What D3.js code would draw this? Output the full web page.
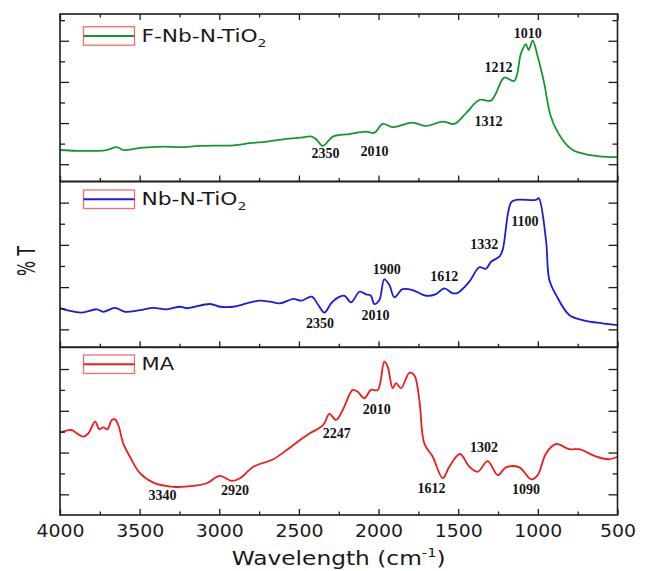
<!DOCTYPE html>
<html>
<head>
<meta charset="utf-8">
<script src="https://cdn.jsdelivr.net/npm/d3@7"></script>
<style>
  html, body { margin: 0; padding: 0; background: #fff; }
  svg { display: block; }
</style>
</head>
<body>
<script>
// FTIR spectra: three stacked panels sharing one wavenumber axis
const xTicks = [4000, 3500, 3000, 2500, 2000, 1500, 1000, 500];
const xMinorTicks = [3750, 3250, 2750, 2250, 1750, 1250, 750];

// F-Nb-N-TiO2 (top panel)
const fnbWave = [4000, 3895, 3707, 3644, 3602, 3498, 3352, 3247, 3121, 2912, 2807, 2702, 2598, 2493, 2419, 2388, 2350, 2287, 2184, 2079, 2027, 1974, 1911, 1786, 1702, 1597, 1524, 1451, 1368, 1294, 1263, 1211, 1148, 1106, 1075, 1058, 1032, 1001, 960, 918, 844, 781, 677, 593, 500];
const fnbT = [6.9, 6.5, 6.9, 8.3, 6.9, 7.9, 8.5, 8.3, 8.9, 9.2, 10.2, 11.0, 12.1, 12.9, 13.4, 11.8, 8.9, 13.4, 14.6, 15.8, 15.3, 19.6, 18.0, 20.2, 18.6, 20.7, 19.6, 24.8, 31.2, 30.9, 34.5, 42.1, 40.5, 53.9, 58.3, 55.5, 60.0, 52.3, 39.3, 23.1, 11.8, 6.9, 4.5, 3.7, 3.4];

// Nb-N-TiO2 (middle panel)
const nbWave = [4000, 3958, 3864, 3770, 3728, 3655, 3592, 3498, 3414, 3330, 3247, 3205, 3058, 2996, 2912, 2828, 2745, 2682, 2619, 2535, 2483, 2420, 2378, 2340, 2298, 2256, 2214, 2172, 2120, 2079, 2048, 2027, 1995, 1964, 1932, 1901, 1849, 1786, 1702, 1639, 1587, 1535, 1503, 1430, 1368, 1326, 1294, 1242, 1221, 1169, 1137, 1012, 995, 949, 928, 886, 803, 719, 593, 500];
const nbT = [10.0, 9.1, 7.9, 9.5, 8.3, 10.2, 8.3, 9.1, 10.2, 9.5, 10.7, 10.0, 12.0, 10.7, 10.7, 12.3, 13.6, 13.1, 12.3, 14.4, 13.6, 15.5, 11.5, 7.9, 12.3, 15.0, 15.9, 12.8, 17.8, 16.6, 15.9, 12.0, 13.9, 23.7, 21.0, 15.2, 19.0, 18.6, 15.9, 16.7, 19.4, 17.1, 17.3, 22.6, 29.4, 28.7, 32.0, 34.4, 37.6, 60.0, 61.3, 61.3, 62.1, 42.3, 23.4, 16.3, 6.8, 4.4, 2.8, 2.0];

// MA (bottom panel)
const maWave = [4000, 3927, 3895, 3854, 3822, 3780, 3753, 3728, 3703, 3675, 3655, 3634, 3603, 3561, 3498, 3414, 3289, 3163, 3079, 2996, 2922, 2870, 2786, 2661, 2577, 2493, 2431, 2347, 2309, 2267, 2225, 2162, 2131, 2089, 2048, 2005, 1964, 1943, 1911, 1891, 1859, 1807, 1776, 1744, 1713, 1660, 1597, 1556, 1489, 1430, 1378, 1315, 1252, 1200, 1116, 1043, 1001, 949, 886, 803, 740, 656, 593, 551, 500];
const maT = [29.5, 30.8, 29.2, 27.6, 29.2, 34.8, 31.1, 32.1, 31.1, 35.6, 35.9, 33.2, 24.4, 18.0, 10.1, 5.6, 3.6, 4.0, 5.3, 8.8, 6.4, 7.7, 13.2, 16.8, 21.2, 26.0, 29.2, 33.2, 38.5, 35.6, 40.4, 50.0, 49.1, 46.0, 50.0, 50.0, 63.5, 61.1, 50.8, 53.2, 50.8, 58.2, 57.1, 45.2, 24.4, 18.0, 7.7, 13.2, 19.3, 13.2, 10.8, 15.9, 9.2, 12.9, 12.9, 7.2, 9.2, 19.6, 24.1, 21.6, 21.6, 18.8, 17.2, 16.8, 18.0];

// peak labels: [text, wavenumber, %T] where the label sits
const fnbPeaks = [['2350', 2333, 3.1], ['2010', 2026, 4.0], ['1312', 1310, 18.6], ['1212', 1247, 45.0], ['1010', 1064, 61.2]];
const nbPeaks = [['2350', 2368, 0.5], ['2010', 2019, 4.4], ['1900', 1948, 26.1], ['1612', 1587, 22.9], ['1332', 1336, 37.9], ['1100', 1082, 49.0]];
const maPeaks = [['3340', 3357, -2.7], ['2920', 2901, -0.3], ['2247', 2262, 26.8], ['2010', 2011, 38.3], ['1612', 1668, 0.8], ['1302', 1338, 20.4], ['1090', 1074, 0.1]];

const width = 646;
const height = 571;
const left = 60;
const right = 617.5;

const panels = [
  { name: 'F-Nb-N-TiO', sub: '2', color: '#11982e', wave: fnbWave, t: fnbT, peaks: fnbPeaks,
    top: 14, bottom: 181.5, domain: [-8.4, 73], ticks: d3.range(0, 71, 10), legendY: 12.7, legendW: 125 },
  { name: 'Nb-N-TiO', sub: '2', color: '#1b1be0', wave: nbWave, t: nbT, peaks: nbPeaks,
    top: 181.5, bottom: 347.3, domain: [-8.5, 70], ticks: d3.range(0, 61, 10), legendY: 8.5, legendW: 105 },
  { name: 'MA', sub: '', color: '#ee1d1d', wave: maWave, t: maT, peaks: maPeaks,
    top: 347.3, bottom: 515, domain: [-9.9, 70.4], ticks: d3.range(0, 61, 10), legendY: 7.7, legendW: 33 },
];

const svg = d3.select('body')
  .append('svg')
  .attr('width', width)
  .attr('height', height)
  .attr('viewBox', [0, 0, width, height]);

svg.append('rect').attr('width', width).attr('height', height).attr('fill', '#fff');

const x = d3.scaleLinear().domain([4000, 500]).range([left, right]);
const frameColor = '#1c1c1c';

// stretch a text node horizontally so it covers targetW
function fitWidth(g, targetW) {
  const w = g.select('text').node().getBBox().width;
  g.select('text').attr('transform', `scale(${targetW / w},1)`);
}

panels.forEach((p, i) => {
  const y = d3.scaleLinear().domain(p.domain).range([p.bottom, p.top]);
  const g = svg.append('g');

  const line = d3.line()
    .x((d) => x(d[0]))
    .y((d) => y(d[1]))
    .curve(d3.curveCatmullRom.alpha(0.5));

  g.append('path')
    .datum(d3.zip(p.wave, p.t))
    .attr('fill', 'none')
    .attr('stroke', p.color)
    .attr('stroke-width', 1.8)
    .attr('stroke-linejoin', 'round')
    .attr('d', line);

  // peak annotations
  g.append('g')
    .selectAll('text')
    .data(p.peaks)
    .join('text')
    .attr('x', (d) => x(d[1]))
    .attr('y', (d) => y(d[2]))
    .attr('text-anchor', 'middle')
    .style('font', 'bold 14px "Liberation Serif", "Times New Roman", serif')
    .attr('fill', '#141414')
    .text((d) => d[0]);

  // y ticks, inward on both sides, alternating long / short
  const major = p.ticks.filter((d, k) => k % 2 === 0);
  const minor = p.ticks.filter((d, k) => k % 2 === 1);
  const yAxes = [
    [d3.axisRight(y).tickValues(major).tickSize(9), left],
    [d3.axisRight(y).tickValues(minor).tickSize(5), left],
    [d3.axisLeft(y).tickValues(major).tickSize(9), right],
    [d3.axisLeft(y).tickValues(minor).tickSize(5), right],
  ];
  yAxes.forEach(([ax, xPos]) => {
    const a = g.append('g')
      .attr('transform', `translate(${xPos},0)`)
      .call(ax.tickFormat(''));
    a.select('.domain').remove();
    a.selectAll('line').attr('stroke', frameColor).attr('stroke-width', 1.3);
  });

  // x ticks at the panel bottom pointing up
  const xAxes = [
    [d3.axisTop(x).tickValues(xTicks).tickSize(6), p.bottom],
    [d3.axisTop(x).tickValues(xMinorTicks).tickSize(3.5), p.bottom],
  ];
  if (i === 0) {
    xAxes.push([d3.axisBottom(x).tickValues(xTicks).tickSize(6), p.top]);
    xAxes.push([d3.axisBottom(x).tickValues(xMinorTicks).tickSize(3.5), p.top]);
  }
  xAxes.forEach(([ax, yPos]) => {
    const a = g.append('g')
      .attr('transform', `translate(0,${yPos})`)
      .call(ax.tickFormat(''));
    a.select('.domain').remove();
    a.selectAll('line').attr('stroke', frameColor).attr('stroke-width', 1.3);
  });

  // frame
  g.append('rect')
    .attr('x', left)
    .attr('y', p.top)
    .attr('width', right - left)
    .attr('height', p.bottom - p.top)
    .attr('fill', 'none')
    .attr('stroke', frameColor)
    .attr('stroke-width', 1.6);

  // legend
  const lg = g.append('g').attr('transform', `translate(83.5,${p.top + p.legendY})`);
  lg.append('rect')
    .attr('width', 51)
    .attr('height', 18.5)
    .attr('fill', 'none')
    .attr('stroke', '#ef6f6f')
    .attr('stroke-width', 1.3);
  lg.append('line')
    .attr('x1', 0)
    .attr('x2', 51)
    .attr('y1', 9.25)
    .attr('y2', 9.25)
    .attr('stroke', p.color)
    .attr('stroke-width', 2);
  const lt = lg.append('g').attr('transform', 'translate(58,15)');
  const txt = lt.append('text')
    .style('font', '17px "DejaVu Sans", sans-serif')
    .attr('fill', '#1a1a1a')
    .text(p.name);
  if (p.sub) {
    txt.append('tspan')
      .attr('dy', 5)
      .style('font-size', '11px')
      .text(p.sub);
  }
  fitWidth(lt, p.legendW);
});

// bottom tick labels
const xl = svg.append('g')
  .attr('transform', `translate(0,${panels[2].bottom})`)
  .call(d3.axisBottom(x).tickValues(xTicks).tickFormat(d3.format('d')).tickSize(0).tickPadding(9.3));
xl.select('.domain').remove();
xl.selectAll('text')
  .style('font', '17.5px "DejaVu Sans", sans-serif')
  .attr('fill', '#1a1a1a')
  .attr('textLength', (d) => String(d).length * 12)
  .attr('lengthAdjust', 'spacingAndGlyphs');

// x title
const xt = svg.append('g').attr('transform', 'translate(231.7,565)');
const xtText = xt.append('text')
  .style('font', '19px "DejaVu Sans", sans-serif')
  .attr('fill', '#1a1a1a')
  .text('Wavelength (cm');
xtText.append('tspan').attr('dy', -8).style('font-size', '12px').text('-1');
xtText.append('tspan').attr('dy', 8).text(')');
fitWidth(xt, 214);

// y title
const yt = svg.append('g').attr('transform', 'translate(35,261) rotate(-90)');
yt.append('text')
  .attr('text-anchor', 'middle')
  .style('font', '24px "DejaVu Sans", sans-serif')
  .attr('fill', '#1a1a1a')
  .text('% T');
const ytw = yt.select('text').node().getBBox().width;
yt.select('text').attr('transform', `scale(${30 / ytw},1)`);
</script>
</body>
</html>
